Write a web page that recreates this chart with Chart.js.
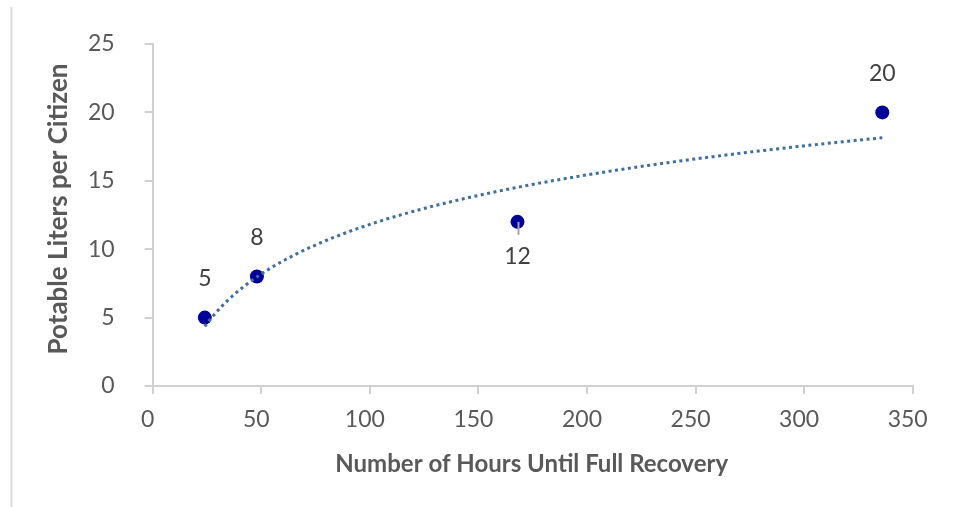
<!DOCTYPE html>
<html>
<head>
<meta charset="utf-8">
<script src="https://cdn.jsdelivr.net/npm/chart.js@4/dist/chart.umd.min.js"></script>
<style>
  html, body { margin: 0; padding: 0; background: #ffffff; }
  #wrap { width: 957px; height: 507px; position: relative; }
</style>
</head>
<body>
<div id="wrap"><canvas id="c" width="957" height="507"></canvas></div>
<script>
// Recovery time (hours) vs. potable water allowance (liters per citizen)
const hours = [24, 48, 168, 336];
const liters = [5, 8, 12, 20];
const labelSide = ['above', 'above', 'below', 'above'];

const xTicks = [0, 50, 100, 150, 200, 250, 300, 350];
const yTicks = [0, 5, 10, 15, 20, 25];

const xTitle = 'Number of Hours Until Full Recovery';
const yTitle = 'Potable Liters per Citizen';

// Logarithmic least-squares trendline: y = a*ln(x) + b
function logFit(xs, ys) {
  const lx = xs.map(Math.log);
  const n = xs.length;
  const mx = lx.reduce((s, v) => s + v, 0) / n;
  const my = ys.reduce((s, v) => s + v, 0) / n;
  let sxy = 0, sxx = 0;
  for (let i = 0; i < n; i++) {
    sxy += (lx[i] - mx) * (ys[i] - my);
    sxx += (lx[i] - mx) * (lx[i] - mx);
  }
  const a = sxy / sxx;
  return { a, b: my - a * mx };
}
const fit = logFit(hours, liters);
const xMin = Math.min(...hours), xMax = Math.max(...hours);
const trend = [];
for (let i = 0; i <= 120; i++) {
  const x = xMin + (xMax - xMin) * i / 120;
  trend.push({ x, y: fit.a * Math.log(x) + fit.b });
}

const FONT = 'Lato, "Noto Sans", sans-serif';
const AXIS_GRAY = '#D0D0D0';
const TEXT_GRAY = '#595959';

const decorations = {
  id: 'decorations',
  afterDatasetsDraw(chart) {
    const ctx = chart.ctx;
    const meta = chart.getDatasetMeta(1);
    ctx.save();
    // leader line under the label placed below its point
    meta.data.forEach((pt, i) => {
      if (labelSide[i] === 'below') {
        ctx.strokeStyle = '#A6A6A6';
        ctx.lineWidth = 2;
        ctx.beginPath();
        ctx.moveTo(pt.x + 1, pt.y);
        ctx.lineTo(pt.x + 1, pt.y + 13);
        ctx.stroke();
      }
    });
    // value labels
    ctx.font = '23px ' + FONT;
    ctx.fillStyle = '#404040';
    ctx.textAlign = 'center';
    ctx.textBaseline = 'middle';
    meta.data.forEach((pt, i) => {
      const dy = labelSide[i] === 'below' ? 35 : -39;
      ctx.fillText(String(liters[i]), pt.x, pt.y + dy);
    });
    ctx.restore();
  },
  afterDraw(chart) {
    const ctx = chart.ctx;
    const area = chart.chartArea;
    ctx.save();
    // left frame line
    ctx.strokeStyle = '#D9D9D9';
    ctx.lineWidth = 2;
    ctx.beginPath();
    ctx.moveTo(11.5, 7);
    ctx.lineTo(11.5, 507);
    ctx.stroke();
    // axis titles
    ctx.fillStyle = TEXT_GRAY;
    ctx.textAlign = 'center';
    ctx.textBaseline = 'alphabetic';
    ctx.font = 'bold 24px ' + FONT;
    ctx.fillText(xTitle, (area.left + area.right) / 2 - 1, 472);
    ctx.font = 'bold 26px ' + FONT;
    ctx.translate(67, 209);
    ctx.rotate(-Math.PI / 2);
    ctx.fillText(yTitle, 0, 0);
    ctx.restore();
  }
};

new Chart(document.getElementById('c'), {
  type: 'scatter',
  data: {
    datasets: [
      {
        label: 'Trend',
        data: trend,
        showLine: true,
        borderColor: '#3F6F9C',
        borderWidth: 3,
        borderDash: [3, 3.5],
        pointRadius: 0,
        fill: false,
        tension: 0
      },
      {
        label: 'Liters',
        data: hours.map((h, i) => ({ x: h, y: liters[i] })),
        backgroundColor: '#00009A',
        borderColor: '#00009A',
        borderWidth: 0,
        pointRadius: 7
      }
    ]
  },
  options: {
    responsive: false,
    animation: false,
    layout: { padding: { left: 0, top: 44, right: 44.3, bottom: 0 } },
    plugins: { legend: { display: false }, tooltip: { enabled: false } },
    scales: {
      x: {
        type: 'linear',
        min: xTicks[0],
        max: xTicks[xTicks.length - 1],
        afterBuildTicks: s => { s.ticks = xTicks.map(v => ({ value: v })); },
        afterFit: s => { s.height = 121; },
        ticks: {
          font: { family: FONT, size: 23 },
          color: TEXT_GRAY,
          padding: 12,
          labelOffset: -5,
          maxRotation: 0
        },
        grid: { drawOnChartArea: false, drawTicks: true, tickLength: 8, color: AXIS_GRAY, lineWidth: 2 },
        border: { color: AXIS_GRAY, width: 2 }
      },
      y: {
        type: 'linear',
        min: yTicks[0],
        max: yTicks[yTicks.length - 1],
        afterBuildTicks: s => { s.ticks = yTicks.map(v => ({ value: v })); },
        afterFit: s => { s.width = 152.7; },
        ticks: {
          font: { family: FONT, size: 23 },
          color: TEXT_GRAY,
          padding: 30
        },
        grid: { drawOnChartArea: false, drawTicks: true, tickLength: 8, color: AXIS_GRAY, lineWidth: 2 },
        border: { color: AXIS_GRAY, width: 2 }
      }
    }
  },
  plugins: [decorations]
});
</script>
</body>
</html>
